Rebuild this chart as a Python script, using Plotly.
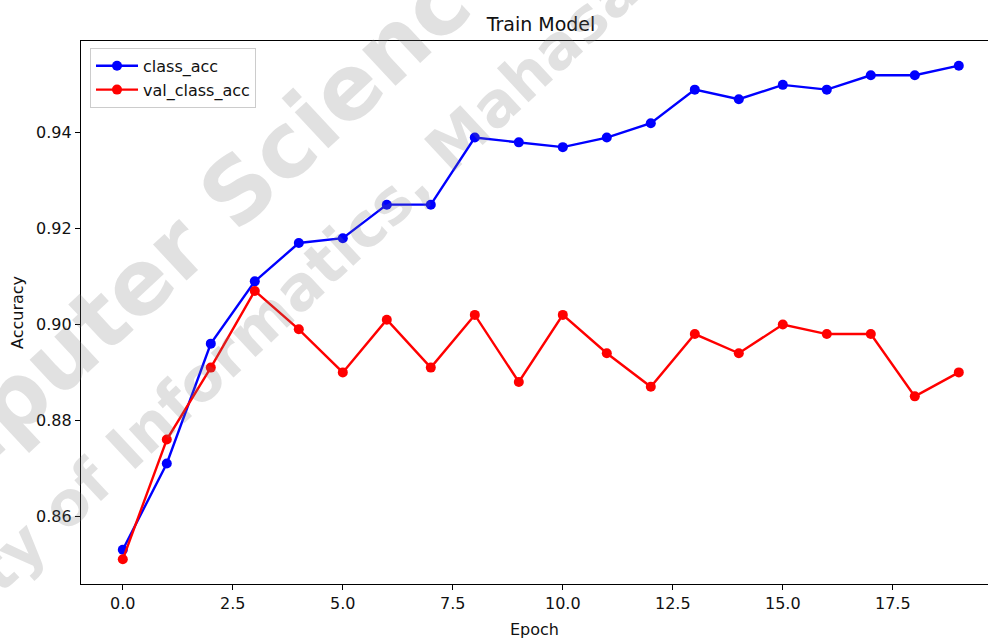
import plotly.graph_objects as go

epochs = list(range(20))
class_acc = [0.853, 0.871, 0.896, 0.909, 0.917, 0.918, 0.925, 0.925, 0.939, 0.938,
             0.937, 0.939, 0.942, 0.949, 0.947, 0.950, 0.949, 0.952, 0.952, 0.954]
val_class_acc = [0.851, 0.876, 0.891, 0.907, 0.899, 0.890, 0.901, 0.891, 0.902, 0.888,
                 0.902, 0.894, 0.887, 0.898, 0.894, 0.900, 0.898, 0.898, 0.885, 0.890]
x_ticks = [0.0, 2.5, 5.0, 7.5, 10.0, 12.5, 15.0, 17.5]
y_ticks = [0.86, 0.88, 0.90, 0.92, 0.94]

W, H = 988, 639
ML, MR, MT, MB = 81, 0, 41, 49
PW, PH = W - ML - MR, H - MT - MB

FONT = "DejaVu Sans"
TXT = "#111111"

# matplotlib-like autoscale (5% margins)
lo = min(min(class_acc), min(val_class_acc))
hi = max(max(class_acc), max(val_class_acc))
pad = (hi - lo) * 0.05
y_range = [lo - pad, hi + pad]
xpad = (max(epochs) - min(epochs)) * 0.05
x_full = [min(epochs) - xpad, max(epochs) + xpad]
# the reference image is cropped on the right: visible portion only
px_per_unit = 44.0
x_range = [x_full[0], x_full[0] + PW / px_per_unit]

fig = go.Figure()
fig.add_trace(go.Scatter(x=epochs, y=class_acc, mode="lines+markers", name="class_acc",
                         line=dict(color="#0000ff", width=2.4),
                         marker=dict(color="#0000ff", size=10)))
fig.add_trace(go.Scatter(x=epochs, y=val_class_acc, mode="lines+markers", name="val_class_acc",
                         line=dict(color="#ff0000", width=2.4),
                         marker=dict(color="#ff0000", size=10)))


def px2paper(px, py):
    return (px - ML) / PW, 1 - (py - MT) / PH


wm_color = "rgba(120,120,120,0.22)"
ax1, ay1 = px2paper(163, 262)
ax2, ay2 = px2paper(472, 126)
fig.add_annotation(text="<b>Computer Science</b>", xref="paper", yref="paper", x=ax1, y=ay1,
                   xanchor="center", yanchor="middle", textangle=-43, showarrow=False,
                   font=dict(family=FONT, size=90, color=wm_color))
fig.add_annotation(text="<b>Faculty of Informatics, Mahasarakham University</b>", xref="paper",
                   yref="paper", x=ax2, y=ay2, xanchor="center", yanchor="middle",
                   textangle=-43, showarrow=False,
                   font=dict(family=FONT, size=61, color=wm_color))

fig.update_layout(
    width=W, height=H,
    margin=dict(l=ML, r=MR, t=MT, b=MB, pad=0),
    paper_bgcolor="white", plot_bgcolor="white",
    font=dict(family=FONT, size=16, color=TXT),
    title=dict(text="Train Model", x=(541) / W, xanchor="center", y=1 - 24 / H, yanchor="middle",
               yref="container", font=dict(family=FONT, size=19, color=TXT)),
    showlegend=True,
    legend=dict(x=(90 - ML) / PW, y=1 - (48 - MT) / PH, xanchor="left", yanchor="top",
                bgcolor="rgba(255,255,255,0.8)", bordercolor="#cccccc", borderwidth=1,
                itemwidth=42,
                font=dict(family=FONT, size=16, color=TXT)),
    xaxis=dict(range=x_range, tickvals=x_ticks, tickformat=".1f", showgrid=False, zeroline=False,
               showline=True, linecolor="black", linewidth=1.3, mirror=True,
               ticks="outside", ticklen=5, tickwidth=1.3, tickcolor="black",
               title=dict(text="Epoch", standoff=14, font=dict(size=16))),
    yaxis=dict(range=y_range, tickvals=y_ticks, tickformat=".2f", showgrid=False, zeroline=False,
               showline=True, linecolor="black", linewidth=1.3,
               ticks="outside", ticklen=5, tickwidth=1.3, tickcolor="black",
               title=dict(text="Accuracy", standoff=8, font=dict(size=16))),
)

fig.write_html("out.html", config={"displayModeBar": False},
               post_script="document.body.style.margin='0';")
